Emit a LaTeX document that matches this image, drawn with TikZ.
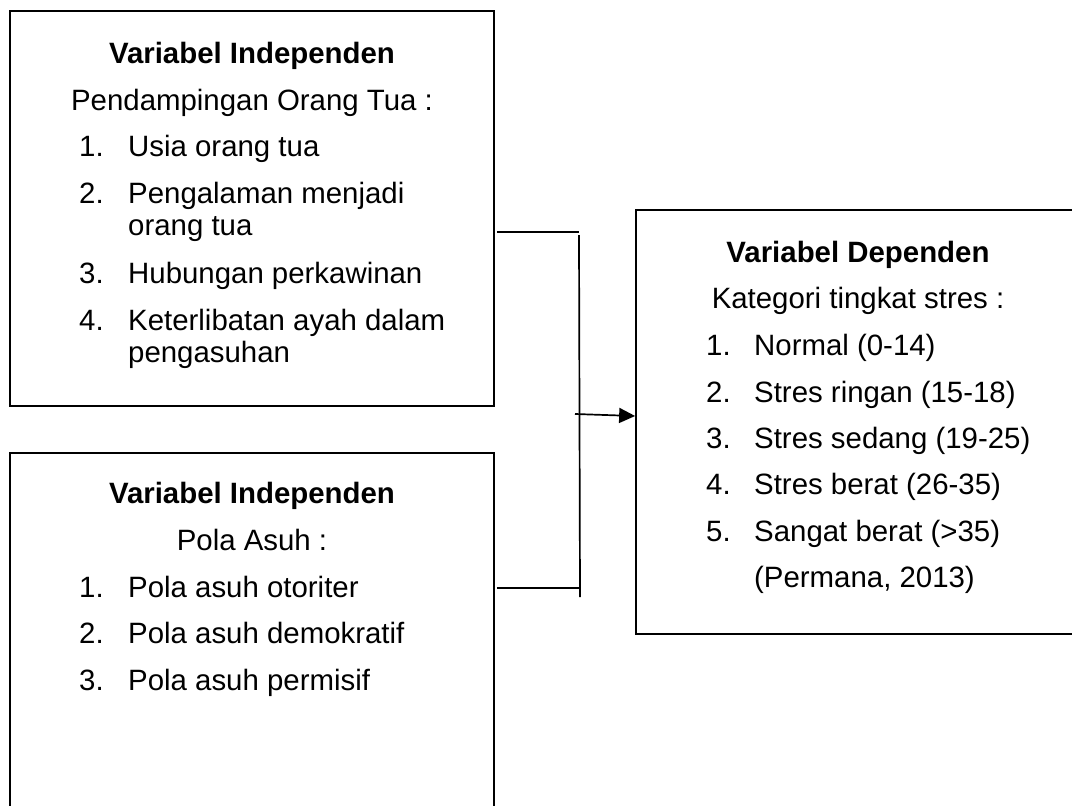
\documentclass[tikz,border=0pt]{standalone}
\usepackage{fontspec}
\setmainfont{Liberation Sans}
\usetikzlibrary{arrows.meta}
\begin{document}
\begin{tikzpicture}[x=1pt,y=-1pt,
  box/.style={draw,line width=1.7pt,inner sep=0pt},
  txt/.style={inner sep=0pt,anchor=base west,font=\fontsize{29.4}{34}\selectfont},
  ctr/.style={inner sep=0pt,anchor=base,font=\fontsize{29.4}{34}\selectfont},
  ttl/.style={inner sep=0pt,anchor=base,font=\fontsize{29.4}{34}\selectfont\bfseries},
  conn/.style={line width=1.7pt},
  arr/.style={line width=1.7pt,-{Triangle[length=16pt,width=15pt]}}]
\useasboundingbox (0,0) rectangle (1072,806);
\clip (0,0) rectangle (1072,806);
\fill[white] (0,0) rectangle (1072,806);
% boxes
\node[box,minimum width=484pt,minimum height=395pt] (b1) at (252,208.5) {};
\node[box,minimum width=484pt,minimum height=447pt] (b2) at (252,676.5) {};
\node[box,minimum width=444pt,minimum height=424pt] (b3) at (858,422) {};
% box 1 text
\node[ttl] (t1) at (252,63) {Variabel Independen};
\node[ctr] (s1) at (252,110) {Pendampingan Orang Tua :};
\node[txt] (n11) at (79,156) {1.};
\node[txt] (i11) at (128,156) {Usia orang tua};
\node[txt] (n12) at (79,203) {2.};
\node[txt] (i12) at (128,203) {Pengalaman menjadi};
\node[txt] (i12b) at (128,235) {orang tua};
\node[txt] (n13) at (79,283) {3.};
\node[txt] (i13) at (128,283) {Hubungan perkawinan};
\node[txt] (n14) at (79,330) {4.};
\node[txt] (i14) at (128,330) {Keterlibatan ayah dalam};
\node[txt] (i14b) at (128,362) {pengasuhan};
% box 2 text
\node[ttl] (t2) at (252,503) {Variabel Independen};
\node[ctr] (s2) at (252,550) {Pola Asuh :};
\node[txt] (n21) at (79,597) {1.};
\node[txt] (i21) at (128,597) {Pola asuh otoriter};
\node[txt] (n22) at (79,643) {2.};
\node[txt] (i22) at (128,643) {Pola asuh demokratif};
\node[txt] (n23) at (79,690) {3.};
\node[txt] (i23) at (128,690) {Pola asuh permisif};
% box 3 text
\node[ttl] (t3) at (858,262) {Variabel Dependen};
\node[ctr] (s3) at (858,308) {Kategori tingkat stres :};
\node[txt] (n31) at (706,355) {1.};
\node[txt] (i31) at (754,355) {Normal (0-14)};
\node[txt] (n32) at (706,402) {2.};
\node[txt] (i32) at (754,402) {Stres ringan (15-18)};
\node[txt] (n33) at (706,448) {3.};
\node[txt] (i33) at (754,448) {Stres sedang (19-25)};
\node[txt] (n34) at (706,494) {4.};
\node[txt] (i34) at (754,494) {Stres berat (26-35)};
\node[txt] (n35) at (706,541) {5.};
\node[txt] (i35) at (754,541) {Sangat berat (>35)};
\node[txt] (i36) at (754,587) {(Permana, 2013)};
% connectors
\coordinate (j1) at (579,232);
\coordinate (j2) at (579,588);
\coordinate (v1) at (579,235);
\coordinate (v2) at (580,597);
\coordinate (a0) at (575,414);
\draw[conn] (b1.east |- j1) ++(2,0) -- (j1);
\draw[conn] (b2.east |- j2) ++(2,0) -- (j2);
\draw[conn] (v1) -- (v2);
\draw[arr] (a0) -- (b3.west |- 0,416);
\end{tikzpicture}
\end{document}
